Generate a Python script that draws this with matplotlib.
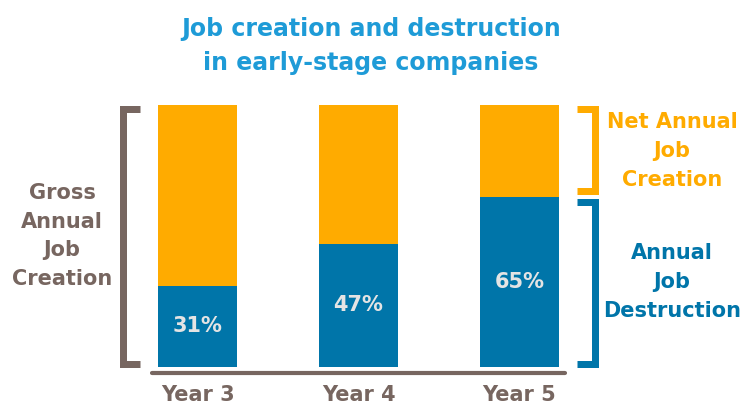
import numpy as np
import matplotlib
matplotlib.use('Agg')
import matplotlib.pyplot as plt
from matplotlib.lines import Line2D
import matplotlib.transforms as mtransforms

# job destruction as a share of gross job creation
years = ['Year 3', 'Year 4', 'Year 5']
destruction = [31, 47, 65]
net_creation = [100 - d for d in destruction]

ORANGE = '#FFAB00'
BLUE = '#0075A9'
BROWN = '#776660'
TITLE_BLUE = '#1E9BD7'
LABEL_GREY = '#E4E4E4'
FONT = 'DejaVu Sans'

plt.rcParams['font.family'] = [FONT]

fig = plt.figure(figsize=(7.42, 4.07), dpi=100)
W, H = 742, 407
ax = fig.add_axes([152 / W, 40 / H, 413 / W, 262 / H])

x = np.arange(len(years))
bw = 0.49
ax.bar(x, destruction, bw, color=BLUE, zorder=2)
ax.bar(x, net_creation, bw, bottom=destruction, color=ORANGE, zorder=2)

for xi, d in zip(x, destruction):
    ax.text(xi, d / 2, f'{d}%', ha='center', va='center',
            color=LABEL_GREY, fontsize=15, fontweight='bold')

ax.set_xlim(-0.2826, 2.2826)
ax.set_ylim(0, 100)
for side in ['top', 'right', 'left']:
    ax.spines[side].set_visible(False)
ax.spines['bottom'].set_position(('outward', 4))
ax.spines['bottom'].set_color(BROWN)
ax.spines['bottom'].set_linewidth(3)
ax.spines['bottom'].set_capstyle('round')
ax.set_yticks([])
ax.set_xticks(x)
ax.set_xticklabels(years, color=BROWN, fontsize=15, fontweight='bold')
ax.tick_params(axis='x', length=0, pad=9)

# brackets: x in axes fraction, y in data units
trans = mtransforms.blended_transform_factory(ax.transAxes, ax.transData)
lw_px = 7
half = lw_px / 2 / 262 * 100


def bracket(x_vert, x_tip, y0, y1, color):
    ln = Line2D([x_tip, x_vert, x_vert, x_tip], [y1, y1, y0, y0],
                transform=trans, color=color, linewidth=lw_px * 72 / 100,
                solid_joinstyle='miter', solid_capstyle='butt',
                clip_on=False)
    ax.add_line(ln)


split = destruction[-1]
gap = 0.8
bracket(-0.0702, -0.029, half, 100 - half, BROWN)
bracket(1.0719, 1.028, split + gap + half, 100 - half, ORANGE)
bracket(1.0719, 1.028, half, split - gap - half, BLUE)

side_kw = dict(transform=trans, ha='center', va='center', fontsize=15,
               fontweight='bold', linespacing=1.55)
ax.text(-0.218, 50, 'Gross\nAnnual\nJob\nCreation', color=BROWN, **side_kw)
ax.text(1.259, (split + 100) / 2, 'Net Annual\nJob\nCreation',
        color=ORANGE, **side_kw)
ax.text(1.259, split / 2, 'Annual\nJob\nDestruction', color=BLUE, **side_kw)

fig.text(0.5, 1 - 46 / H, 'Job creation and destruction\nin early-stage companies',
         ha='center', va='center', color=TITLE_BLUE, fontsize=17,
         fontweight='bold', linespacing=1.5)

fig.savefig('out.png', dpi=100, facecolor='white')
